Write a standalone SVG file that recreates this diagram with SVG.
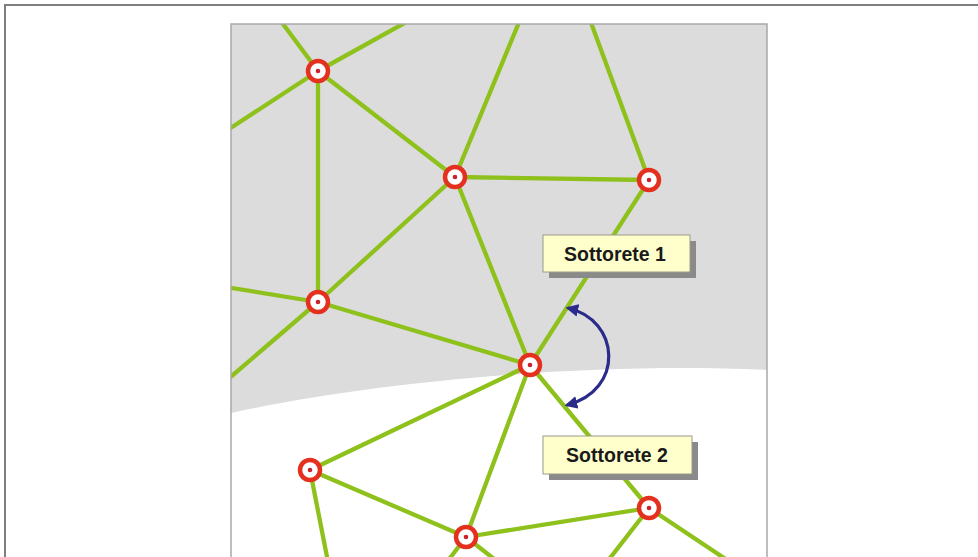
<svg xmlns="http://www.w3.org/2000/svg" width="978" height="557" viewBox="0 0 978 557">
  <defs>
    <style>
      .edge { stroke: #8fc11c; stroke-width: 4.3; stroke-linecap: round; fill: none; }
      .ring { fill: #ffffff; stroke: #e4301e; stroke-width: 4.5; }
      .dot { fill: #c8232c; }
      .box { fill: #ffffcc; stroke: #9a9a8a; stroke-width: 1; }
      .shadow { fill: #8a8a8a; }
      .lbl { font-family: "Liberation Sans", Arial, sans-serif; font-weight: bold; font-size: 19.5px; fill: #1a1a1a; text-anchor: middle; }
      .arc { stroke: #2b2b8c; stroke-width: 3.2; fill: none; }
    </style>
    <marker id="head" viewBox="0 0 10 10" refX="8" refY="5" markerWidth="4" markerHeight="4" orient="auto-start-reverse" markerUnits="strokeWidth">
      <path d="M0,0 L10,5 L0,10 Z" fill="#2b2b8c"/>
    </marker>
    <clipPath id="panelClip">
      <rect x="231" y="24" width="536" height="533"/>
    </clipPath>
  </defs>

  <!-- page frame -->
  <rect x="0" y="0" width="978" height="557" fill="#ffffff"/>
  <path d="M5,557 L5,5 L978,5" fill="none" stroke="#7f7f7f" stroke-width="2"/>

  <!-- panel with the two sub-network regions -->
  <g id="panel">
    <rect x="231" y="24" width="536" height="533" fill="#ffffff"/>
    <path d="M231,24 L767,24 L767,370 C600,362 380,380 231,413 Z" fill="#dcdcdc"/>
  </g>

  <g id="connectors" clip-path="url(#panelClip)">
    <line class="edge" x1="280" y1="20" x2="318" y2="71"/>
    <line class="edge" x1="410" y1="20" x2="318" y2="71"/>
    <line class="edge" x1="226" y1="131" x2="318" y2="71"/>
    <line class="edge" x1="318" y1="71" x2="318" y2="302"/>
    <line class="edge" x1="318" y1="71" x2="455" y2="177"/>
    <line class="edge" x1="520" y1="20" x2="455" y2="177"/>
    <line class="edge" x1="590" y1="20" x2="649" y2="180"/>
    <line class="edge" x1="455" y1="177" x2="649" y2="180"/>
    <line class="edge" x1="455" y1="177" x2="318" y2="302"/>
    <line class="edge" x1="455" y1="177" x2="530" y2="365"/>
    <line class="edge" x1="649" y1="180" x2="530" y2="365"/>
    <line class="edge" x1="226" y1="287" x2="318" y2="302"/>
    <line class="edge" x1="226" y1="381" x2="318" y2="302"/>
    <line class="edge" x1="318" y1="302" x2="530" y2="365"/>
    <line class="edge" x1="530" y1="365" x2="310" y2="470"/>
    <line class="edge" x1="530" y1="365" x2="466" y2="537"/>
    <line class="edge" x1="530" y1="365" x2="649" y2="508"/>
    <line class="edge" x1="310" y1="470" x2="466" y2="537"/>
    <line class="edge" x1="310" y1="470" x2="328" y2="562"/>
    <line class="edge" x1="466" y1="537" x2="649" y2="508"/>
    <line class="edge" x1="466" y1="537" x2="447" y2="562"/>
    <line class="edge" x1="466" y1="537" x2="498" y2="562"/>
    <line class="edge" x1="649" y1="508" x2="607" y2="562"/>
    <line class="edge" x1="649" y1="508" x2="730" y2="562"/>
  </g>

  <rect x="231" y="24" width="536" height="540" fill="none" stroke="#a8a8a8" stroke-width="1.5"/>

  <!-- routers -->
  <g id="n1"><circle class="ring" cx="318" cy="71" r="10"/><circle class="dot" cx="318" cy="71" r="2.3"/></g>
  <g id="n2"><circle class="ring" cx="455" cy="177" r="10"/><circle class="dot" cx="455" cy="177" r="2.3"/></g>
  <g id="n3"><circle class="ring" cx="649" cy="180" r="10"/><circle class="dot" cx="649" cy="180" r="2.3"/></g>
  <g id="n4"><circle class="ring" cx="318" cy="302" r="10"/><circle class="dot" cx="318" cy="302" r="2.3"/></g>
  <g id="n5"><circle class="ring" cx="530" cy="365" r="10"/><circle class="dot" cx="530" cy="365" r="2.3"/></g>
  <g id="n6"><circle class="ring" cx="310" cy="470" r="10"/><circle class="dot" cx="310" cy="470" r="2.3"/></g>
  <g id="n7"><circle class="ring" cx="466" cy="537" r="10"/><circle class="dot" cx="466" cy="537" r="2.3"/></g>
  <g id="n8"><circle class="ring" cx="649" cy="508" r="10"/><circle class="dot" cx="649" cy="508" r="2.3"/></g>

  <!-- boundary crossing -->
  <g id="crossing">
    <path class="arc" d="M568,308 C620,320 625,390 567,405" marker-start="url(#head)" marker-end="url(#head)"/>
  </g>

  <!-- sub-network labels -->
  <g id="label1">
    <rect class="shadow" x="549" y="241" width="147" height="37"/>
    <rect class="box" x="543" y="235" width="147" height="37"/>
    <text class="lbl" x="615" y="261">Sottorete 1</text>
  </g>
  <g id="label2">
    <rect class="shadow" x="549" y="442" width="149" height="38"/>
    <rect class="box" x="543" y="436" width="149" height="38"/>
    <text class="lbl" x="617" y="462">Sottorete 2</text>
  </g>
</svg>
